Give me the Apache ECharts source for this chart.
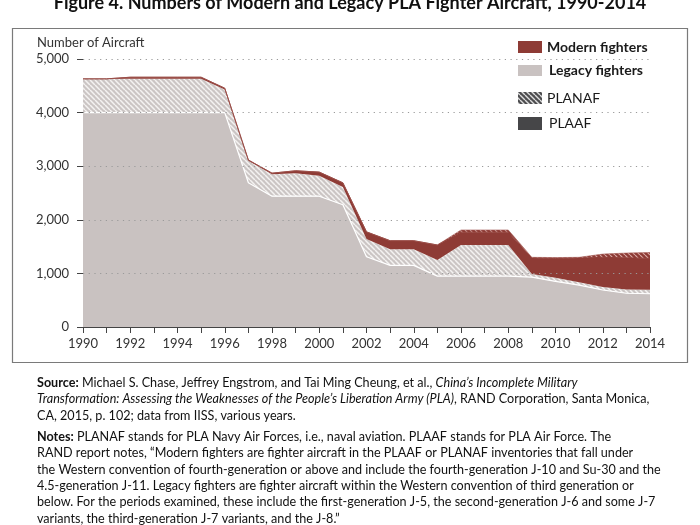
<!DOCTYPE html>
<html><head><meta charset="utf-8">
<script src="https://cdn.jsdelivr.net/npm/echarts@6/dist/echarts.min.js"></script>
<style>html,body{margin:0;padding:0;background:#fff}#c{width:700px;height:525px}</style>
</head><body><div id="c"></div>
<script>
const years = ['1990','1991','1992','1993','1994','1995','1996','1997','1998','1999','2000','2001','2002','2003','2004','2005','2006','2007','2008','2009','2010','2011','2012','2013','2014'];
const legacyPLAAF = [4000,4000,4000,4000,4000,4000,4000,2690,2440,2440,2440,2280,1310,1150,1150,950,950,950,950,930,850,780,690,630,620];
const legacyPLANAF = [630,630,630,630,630,630,430,410,410,430,380,330,330,300,300,300,580,580,580,60,70,55,55,70,75];
const modernPLAAF = [0,0,30,30,30,30,25,15,20,45,70,80,135,160,160,280,240,240,240,295,360,450,555,590,585];
const modernPLANAF = [0,0,0,0,0,0,0,0,0,0,0,0,0,0,0,0,40,40,40,15,15,15,60,90,110];
const yTicks = [0,1000,2000,3000,4000,5000];
const legendNames = ['Modern fighters','Legacy fighters','PLANAF','PLAAF'];
const sourceLines = [
  '{b|Source:} Michael S. Chase, Jeffrey Engstrom, and Tai Ming Cheung, et al., {i|China\u2019s Incomplete Military}',
  '{i|Transformation: Assessing the Weaknesses of the People\u2019s Liberation Army (PLA)}, RAND Corporation, Santa Monica,',
  'CA, 2015, p. 102; data from IISS, various years.'
];
const noteLines = [
  '{b|Notes:} PLANAF stands for PLA Navy Air Forces, i.e., naval aviation. PLAAF stands for PLA Air Force. The',
  'RAND report notes, \u201cModern fighters are fighter aircraft in the PLAAF or PLANAF inventories that fall under',
  'the Western convention of fourth-generation or above and include the fourth-generation J-10 and Su-30 and the',
  '4.5-generation J-11. Legacy fighters are fighter aircraft within the Western convention of third generation or',
  'below. For the periods examined, these include the first-generation J-5, the second-generation J-6 and some J-7',
  'variants, the third-generation J-7 variants, and the J-8.\u201d'
];

function hatch(bg, fg, size, lw) {
  const c = document.createElement('canvas');
  c.width = size; c.height = size;
  const g = c.getContext('2d');
  g.fillStyle = bg; g.fillRect(0,0,size,size);
  g.strokeStyle = fg; g.lineWidth = lw;
  g.beginPath();
  for (const o of [-size, 0, size]) { g.moveTo(o, 0); g.lineTo(o + size, size); }
  g.stroke();
  return c;
}
const RED = '#8E3B35', GREY = '#C9C2C1', DARK = '#464648';
const greyHatch = {image: hatch('#CBC5C4', '#F4F2F1', 5, 1.5), repeat: 'repeat'};
const redHatch = {image: hatch(RED, '#D9A9A5', 5, 1.2), repeat: 'repeat'};
const darkHatch = {image: hatch('#4d4d4f', '#DDDDDD', 5, 1.4), repeat: 'repeat'};

const FONT = 'Lato, "Open Sans", sans-serif';
const chart = echarts.init(document.getElementById('c'), null, {renderer: 'canvas'});

const graphics = [];
graphics.push({type:'text', left: 'center', top: -6, style:{text:'Figure 4. Numbers of Modern and Legacy PLA Fighter Aircraft, 1990-2014', font:'bold 18px ' + FONT, fill:'#111'}});
graphics.push({type:'rect', shape:{x:12.5, y:28.5, width:675, height:334}, style:{fill:'none', stroke:'#7a7a7a', lineWidth:1.2}, z:0});
graphics.push({type:'text', x:37, y:43, style:{text:'Number of Aircraft', font:'13px ' + FONT, fill:'#333', textVerticalAlign:'middle'}});
const legFills = [RED, GREY, darkHatch, DARK];
const legY = [47, 70.5, 98, 123.5];
const legH = [12, 11, 12, 13];
const legFont = ['bold 14px ', 'bold 14px ', '14px ', '14px '];
const legTx = [547, 549, 547, 549];
legendNames.forEach((n, i) => {
  graphics.push({type:'rect', shape:{x:518, y:legY[i]-legH[i]/2, width:24, height:legH[i]}, style:{fill:legFills[i]}});
  graphics.push({type:'text', x:legTx[i], y:legY[i], style:{text:n, font:legFont[i] + FONT, fill:'#1a1a1a', textVerticalAlign:'middle'}});
});
const rich = {b:{fontWeight:'bold', fontFamily:FONT, fontSize:12.6, fill:'#111'}, i:{fontStyle:'italic', fontFamily:FONT, fontSize:12.6, fill:'#111'}};
sourceLines.forEach((t, k) => graphics.push({type:'text', x:37, y:383 + 16.3*k, style:{text:t, rich, font:'12.6px ' + FONT, fill:'#111', textVerticalAlign:'middle'}}));
noteLines.forEach((t, k) => graphics.push({type:'text', x:37, y:437 + 16.3*k, style:{text:t, rich, font:'12.6px ' + FONT, fill:'#111', textVerticalAlign:'middle'}}));

function area(name, data, fill, line) {
  return {name, type:'line', stack:'total', data, symbol:'none', showSymbol:false, z:2,
    areaStyle:{color:fill, opacity:1}, lineStyle: line, emphasis:{disabled:true}};
}

chart.setOption({
  animation: false,
  textStyle: {fontFamily: FONT},
  grid: {left:83, right:50, top:59, bottom:198},
  xAxis: {type:'category', data: years, boundaryGap:false, z:5,
    axisLine:{lineStyle:{color:'#444', width:1}},
    axisTick:{interval:0, length:6, lineStyle:{color:'#444'}},
    axisLabel:{interval:1, color:'#333', fontSize:13, margin:10, fontFamily:FONT},
    splitLine:{show:false}},
  yAxis: {type:'value', min:yTicks[0], max:yTicks[yTicks.length-1], interval:1000, z:5,
    axisLine:{show:false},
    axisTick:{show:true, length:6, lineStyle:{color:'#444'}},
    axisLabel:{color:'#333', fontSize:13, margin:14, fontFamily:FONT, formatter: v => v.toLocaleString('en-US')},
    splitLine:{show:true, lineStyle:{color:'#9a9a9a', type:[1.2,4.5], width:1.2}}},
  series: [
    area('Legacy PLAAF', legacyPLAAF, GREY, {color:'#ffffff', width:1.2}),
    area('Legacy PLANAF', legacyPLANAF, greyHatch, {width:0}),
    area('Modern PLAAF', modernPLAAF, RED, {color:RED, width:1}),
    area('Modern PLANAF', modernPLANAF, redHatch, {color:'#A25A55', width:0.6})
  ],
  graphic: graphics
});
</script></body></html>
